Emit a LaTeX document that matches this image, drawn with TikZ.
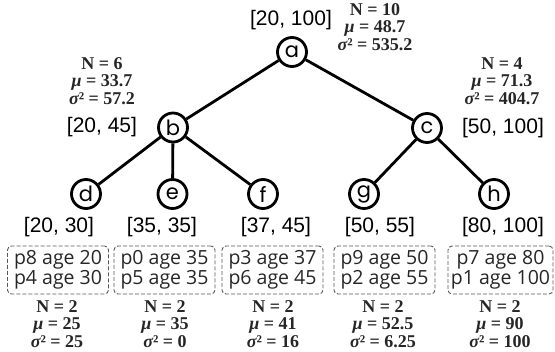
\documentclass[tikz,border=0pt]{standalone}
\usepackage{fontspec}
\setmainfont{Liberation Sans}
\newfontfamily\statfont{Liberation Serif}
\newfontfamily\letterfont{Poppins}
\newfontfamily\boxfont{Open Sans}
\begin{document}
\begin{tikzpicture}[x=1pt,y=-1pt,
  tn/.style={circle,draw,line width=2.8pt,minimum size=29pt,inner sep=0pt,font=\letterfont\fontsize{21}{21}\selectfont},
  edge/.style={line width=2.8pt},
  rng/.style={inner sep=0pt,font=\fontsize{21}{21}\selectfont},
  leafbox/.style={draw=black!65,dash pattern=on 4pt off 2pt,line width=0.9pt,rounded corners=4pt,minimum width=101pt,minimum height=48pt,inner sep=0pt,align=center,font=\boxfont\fontsize{19.5}{20.5}\selectfont,text=black!85},
  stat/.style={align=center,inner sep=0pt,font=\statfont\bfseries\fontsize{18}{17.5}\selectfont,text=black!85}]
\useasboundingbox (0,0) rectangle (555,352);
% tree nodes
\node[tn] (a) at (292,52) {a};
\node[tn] (b) at (173,127.5) {b};
\node[tn] (c) at (427,128) {c};
\node[tn] (d) at (86,194) {d};
\node[tn] (e) at (172.5,194) {e};
\node[tn] (f) at (263,194) {f};
\node[tn] (g) at (364,194) {g};
\node[tn] (h) at (494,194) {h};
% edges
\draw[edge] (a) -- (b);
\draw[edge] (a) -- (c);
\draw[edge] (b) -- (d);
\draw[edge] (b) -- (e);
\draw[edge] (b) -- (f);
\draw[edge] (c) -- (g);
\draw[edge] (c) -- (h);
% ranges
\node[rng] (ra) at (291,20) {[20, 100]};
\node[rng] (rb) at (102,127) {[20, 45]};
\node[rng] (rc) at (503,128) {[50, 100]};
\node[rng] (rd) at (59,227) {[20, 30]};
\node[rng] (re) at (162,227) {[35, 35]};
\node[rng] (rf) at (276,227) {[37, 45]};
\node[rng] (rg) at (380,227) {[50, 55]};
\node[rng] (rh) at (503,227) {[80, 100]};
% internal stats
\node[stat] (sa) at (375,27) {N = 10\\{\itshape μ} = 48.7\\{\itshape σ}² = 535.2};
\node[stat] (sb) at (102,81) {N = 6\\{\itshape μ} = 33.7\\{\itshape σ}² = 57.2};
\node[stat] (sc) at (502,81) {N = 4\\{\itshape μ} = 71.3\\{\itshape σ}² = 404.7};
% leaf boxes
\node[leafbox] (bd) at (58,270) {p8 age 20\\p4 age 30};
\node[leafbox] (be) at (164.5,270) {p0 age 35\\p5 age 35};
\node[leafbox] (bf) at (272.5,270) {p3 age 37\\p6 age 45};
\node[leafbox] (bg) at (384.5,270) {p9 age 50\\p2 age 55};
\node[leafbox,minimum width=105pt] (bh) at (500.5,270) {p7 age 80\\p1 age 100};
% leaf stats
\node[stat] (sd) at (57,324) {N = 2\\{\itshape μ} = 25\\{\itshape σ}² = 25};
\node[stat] (se) at (165,324) {N = 2\\{\itshape μ} = 35\\{\itshape σ}² = 0};
\node[stat] (sf) at (273,324) {N = 2\\{\itshape μ} = 41\\{\itshape σ}² = 16};
\node[stat] (sg) at (383,324) {N = 2\\{\itshape μ} = 52.5\\{\itshape σ}² = 6.25};
\node[stat] (sh) at (500,324) {N = 2\\{\itshape μ} = 90\\{\itshape σ}² = 100};
\end{tikzpicture}
\end{document}
